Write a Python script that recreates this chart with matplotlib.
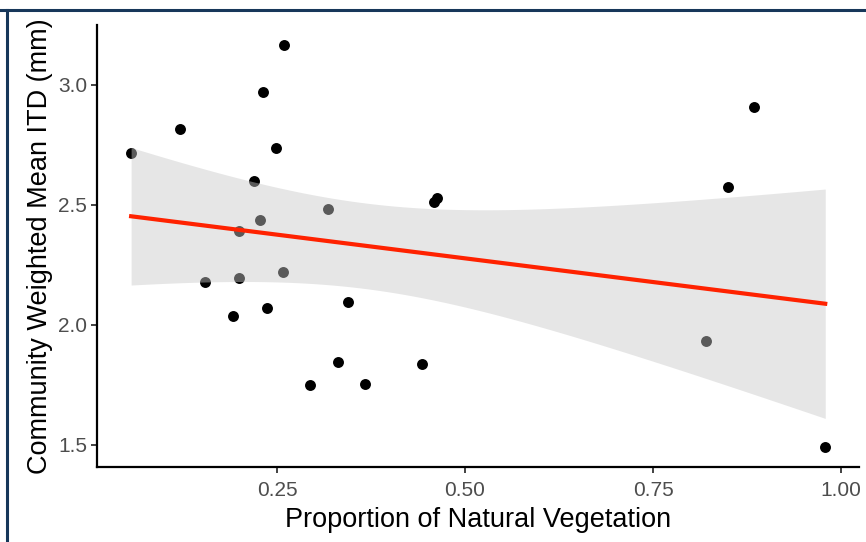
import numpy as np
import matplotlib
matplotlib.use("Agg")
import matplotlib.pyplot as plt
from matplotlib.lines import Line2D

plt.rcParams['font.family'] = ['Liberation Sans', 'DejaVu Sans']

# Data
natural_veg = [0.056, 0.121, 0.231, 0.259, 0.249, 0.219, 0.227, 0.199, 0.318,
               0.154, 0.199, 0.258, 0.191, 0.237, 0.344, 0.294, 0.331, 0.367,
               0.443, 0.459, 0.463, 0.850, 0.884, 0.820, 0.979]
cwm_itd = [2.717, 2.817, 2.971, 3.167, 2.738, 2.600, 2.438, 2.392, 2.483,
           2.179, 2.196, 2.221, 2.038, 2.071, 2.096, 1.750, 1.846, 1.754,
           1.838, 2.513, 2.527, 2.575, 2.908, 1.933, 1.492]
x_ticks = [0.25, 0.50, 0.75, 1.00]
x_ticklabels = ["0.25", "0.50", "0.75", "1.00"]
y_ticks = [1.5, 2.0, 2.5, 3.0]
y_ticklabels = ["1.5", "2.0", "2.5", "3.0"]

x = np.array(natural_veg)
y = np.array(cwm_itd)

# Linear fit with 95% confidence band (like geom_smooth(method='lm'))
n = len(x)
X = np.column_stack([np.ones(n), x])
beta, *_ = np.linalg.lstsq(X, y, rcond=None)
resid = y - X @ beta
s2 = resid @ resid / (n - 2)
XtX_inv = np.linalg.inv(X.T @ X)
t_crit = 2.0687  # t(0.975, df=23)
xg = np.linspace(x.min(), x.max(), 80)
Xg = np.column_stack([np.ones_like(xg), xg])
yg = Xg @ beta
se = np.sqrt(s2 * np.einsum('ij,jk,ik->i', Xg, XtX_inv, Xg))
lo, hi = yg - t_crit * se, yg + t_crit * se

fig = plt.figure(figsize=(8.66, 5.42), dpi=100)
ax = fig.add_axes([0.112, 0.1384, 0.880, 0.8155])

ax.scatter(x, y, s=62, color='black', zorder=1, linewidths=0)
ax.fill_between(xg, lo, hi, color=(200/255, 200/255, 200/255), alpha=0.45,
                linewidth=0, zorder=2)
ax.plot(xg, yg, color='#FF2200', linewidth=3, zorder=3)

ax.set_xlim(0.0106, 1.024)
ax.set_ylim(1.408, 3.25)
ax.set_xticks(x_ticks)
ax.set_xticklabels(x_ticklabels)
ax.set_yticks(y_ticks)
ax.set_yticklabels(y_ticklabels)

for side in ['top', 'right']:
    ax.spines[side].set_visible(False)
for side in ['left', 'bottom']:
    ax.spines[side].set_linewidth(1.6)
    ax.spines[side].set_color('black')

ax.tick_params(axis='both', length=4, width=1.3, color='#333333',
               labelsize=15, labelcolor='#4D4D4D')
ax.tick_params(axis='x', pad=6)
ax.tick_params(axis='y', pad=3)

ax.set_xlabel("Proportion of Natural Vegetation", fontsize=19.5, color='black', labelpad=5)
ax.set_ylabel("Community Weighted Mean ITD (mm)", fontsize=19.5, color='black', labelpad=4)

# frame lines (top and left) of the image
border = '#17375A'
fig.add_artist(Line2D([0, 1], [1 - 10/542, 1 - 10/542], transform=fig.transFigure,
                      color=border, linewidth=2.2))
fig.add_artist(Line2D([7/866, 7/866], [0, 1 - 10/542], transform=fig.transFigure,
                      color=border, linewidth=2.2))

fig.savefig("out.png", dpi=100)
